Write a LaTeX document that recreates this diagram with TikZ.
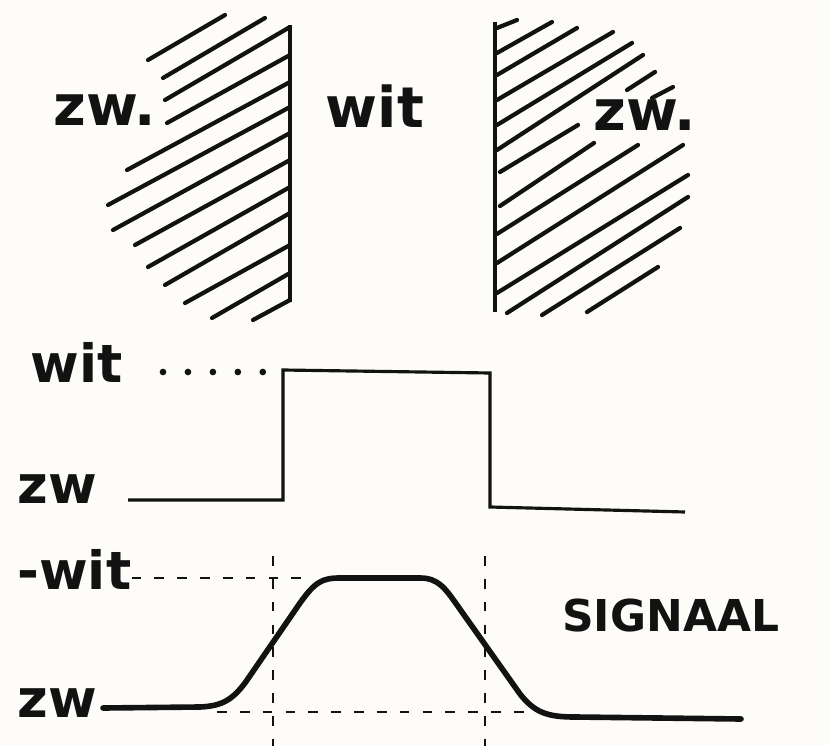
\documentclass[tikz,border=0pt]{standalone}
\usepackage{fontspec}
\setmainfont{DejaVu Sans}
\usetikzlibrary{calc}
\newcommand{\px}{0.02}
\definecolor{ink}{RGB}{18,18,18}
\definecolor{paper}{RGB}{253,252,249}
\tikzset{
  hatch/.style    = {ink, line width=2.4pt, line cap=round},              % shading strokes
  edgeline/.style = {ink, line width=2pt},                                 % black/white border
  sqline/.style   = {ink, line width=1.8pt, line join=miter},              % ideal square wave
  sigline/.style  = {ink, line width=3.2pt, line cap=round, line join=round}, % real signal
  guide/.style    = {ink, line width=1.6pt, dash pattern=on 5.5pt off 7.5pt},
  dotguide/.style = {ink, line width=3.8pt, line cap=round, dash pattern=on 0pt off 14.2pt},
  lbl/.style      = {inner sep=0pt, text=ink, font=\bfseries\fontsize{30}{30}\selectfont},
  lblbig/.style   = {lbl, font=\bfseries\fontsize{32}{32}\selectfont},
  lblsig/.style   = {lbl, font=\bfseries\fontsize{25}{25}\selectfont},
}
\newcommand{\hatchrow}[1]{%
  \foreach \xa/\ya/\xb/\yb in {#1} {%
    \draw[hatch] (\xa,\ya) -- (\xb,\yb);%
  }%
}

\begin{document}
\begin{tikzpicture}[x=\px cm, y=-\px cm]
  \fill[paper] (0,0) rectangle (829,746);

  \hatchrow{148/60/225/15, 163/78/265/18, 165/100/290/27, 167/123/290/55,
    127/170/290/82, 108/205/290/107, 113/230/290/133, 135/245/290/160,
    148/267/290/187, 165/285/290/213, 185/303/290/245, 212/318/290/273,
    253/320/290/300}
  \draw[edgeline] (290,25) -- (290,302);
  \hatchrow{497/28/517/20, 497/53/552/22, 497/75/577/28, 497/100/613/32,
    497/125/632/43, 497/150/643/55, 627/90/655/72, 652/98/673/87,
    500/172/578/125, 500/206/594/143, 497/234/638/145, 497/263/683/145,
    497/293/688/175, 507/313/688/197, 542/315/680/228, 587/312/658/267}
  \draw[edgeline] (495,22) -- (495,312);

  \node[lblbig, anchor=base] (zwL)  at (105,125) {zw.};
  \node[lblbig, anchor=base] (witT) at (375,127) {wit};
  \node[lblbig, anchor=base] (zwR)  at (645,130) {zw.};

  \node[lbl, anchor=base west] (witS) at (30,382) {wit};
  \node[lbl, anchor=base west] (zwS)  at (17,503) {zw};
  \coordinate (sqA) at (128,500);
  \coordinate (sqB) at (283,500);
  \coordinate (sqC) at (283,370);
  \coordinate (sqD) at (490,373);
  \coordinate (sqE) at (490,507);
  \coordinate (sqF) at (685,512);
  \coordinate (dotA) at (163,372);
  \draw[dotguide] (dotA) -- ($(sqC)+(-13,2)$);
  \draw[sqline] (sqA) -- (sqB) -- (sqC) -- (sqD) -- (sqE) -- (sqF);

  \node[lbl, anchor=base west] (witG) at (17,589) {-wit};
  \node[lbl, anchor=base west] (zwG)  at (17,717) {zw};
  \node[lblsig, anchor=base west] (sig) at (562,631) {SIGNAAL};
  \coordinate (topL) at (307,578);
  \coordinate (botL) at (217,712);
  \coordinate (botR) at (530,712);
  \coordinate (vL) at (273,556);
  \coordinate (vR) at (485,556);
  \draw[guide] (witG.east |- topL) -- (topL);
  \draw[guide] (botL) -- (botR);
  \draw[guide] (vL) -- (vL |- 0,746);
  \draw[guide] (vR) -- (vR |- 0,746);
  \draw[sigline] (103,708) -- (200,707) .. controls (222,706) and (232,700) .. (245,683)
    -- (300,603) .. controls (315,582) and (322,578) .. (340,578) -- (420,578)
    .. controls (438,578) and (445,588) .. (457,605) -- (520,694)
    .. controls (535,713) and (548,717) .. (575,717) -- (741,719);
\end{tikzpicture}
\end{document}
